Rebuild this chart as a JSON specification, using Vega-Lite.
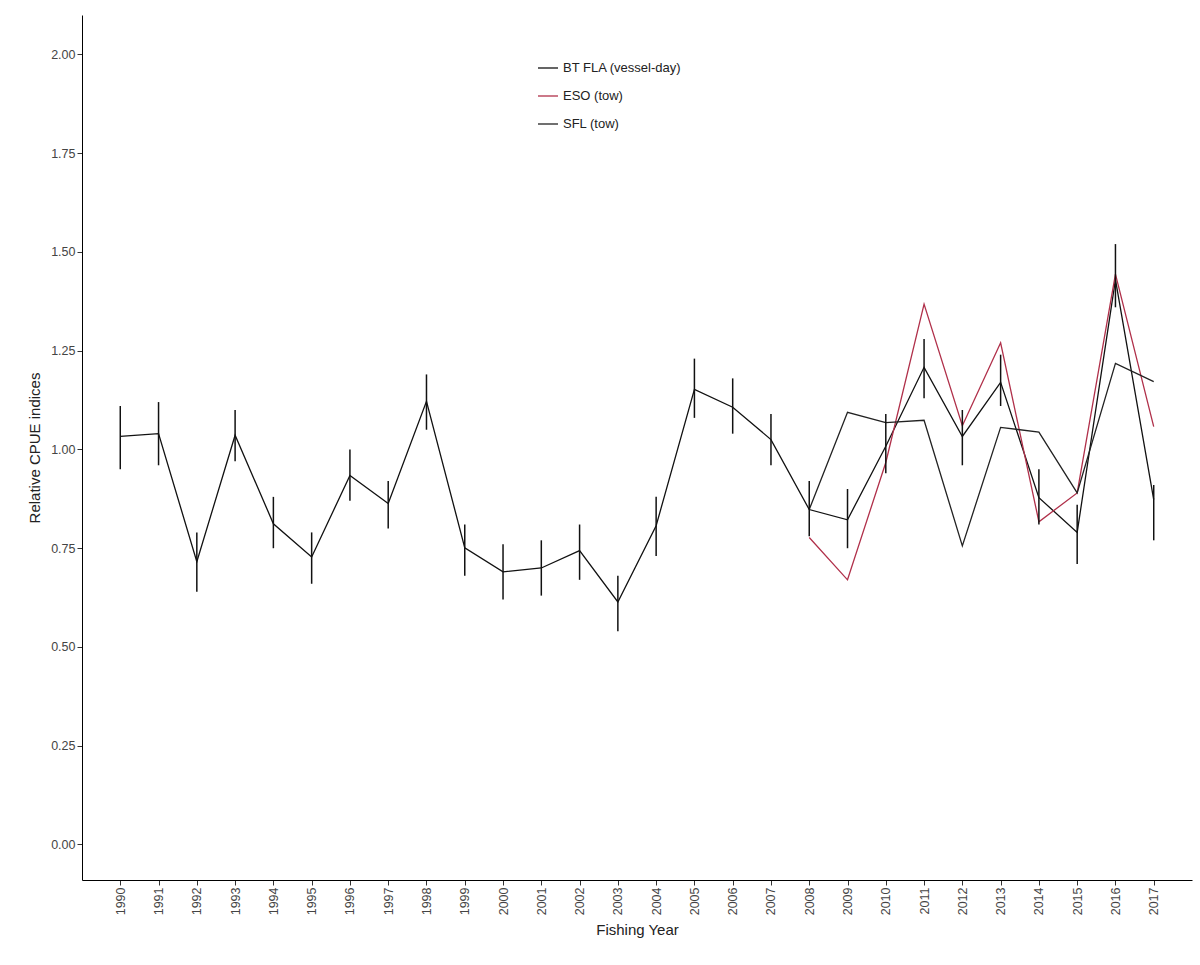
{
"$schema":"https://vega.github.io/schema/vega-lite/v6.json",
"width":1110,"height":865,
"padding":{"left":27,"top":15,"right":5,"bottom":5},
"background":"white",
"config":{"view":{"stroke":null},"font":"Liberation Sans","axis":{"grid":false,"domainColor":"black","tickColor":"#333","labelColor":"#444","labelFontSize":12.5,"titleFontSize":15,"titleFontWeight":"normal","titleColor":"#222"}},
"datasets":{"d":[
{"year":"1990","series":"BT FLA (vessel-day)","v":1.033,"lo":0.95,"hi":1.11},
{"year":"1991","series":"BT FLA (vessel-day)","v":1.04,"lo":0.96,"hi":1.12},
{"year":"1992","series":"BT FLA (vessel-day)","v":0.716,"lo":0.64,"hi":0.79},
{"year":"1993","series":"BT FLA (vessel-day)","v":1.036,"lo":0.97,"hi":1.10},
{"year":"1994","series":"BT FLA (vessel-day)","v":0.812,"lo":0.75,"hi":0.88},
{"year":"1995","series":"BT FLA (vessel-day)","v":0.728,"lo":0.66,"hi":0.79},
{"year":"1996","series":"BT FLA (vessel-day)","v":0.934,"lo":0.87,"hi":1.00},
{"year":"1997","series":"BT FLA (vessel-day)","v":0.863,"lo":0.80,"hi":0.92},
{"year":"1998","series":"BT FLA (vessel-day)","v":1.122,"lo":1.05,"hi":1.19},
{"year":"1999","series":"BT FLA (vessel-day)","v":0.751,"lo":0.68,"hi":0.81},
{"year":"2000","series":"BT FLA (vessel-day)","v":0.69,"lo":0.62,"hi":0.76},
{"year":"2001","series":"BT FLA (vessel-day)","v":0.70,"lo":0.63,"hi":0.77},
{"year":"2002","series":"BT FLA (vessel-day)","v":0.744,"lo":0.67,"hi":0.81},
{"year":"2003","series":"BT FLA (vessel-day)","v":0.614,"lo":0.54,"hi":0.68},
{"year":"2004","series":"BT FLA (vessel-day)","v":0.807,"lo":0.73,"hi":0.88},
{"year":"2005","series":"BT FLA (vessel-day)","v":1.152,"lo":1.08,"hi":1.23},
{"year":"2006","series":"BT FLA (vessel-day)","v":1.107,"lo":1.04,"hi":1.18},
{"year":"2007","series":"BT FLA (vessel-day)","v":1.025,"lo":0.96,"hi":1.09},
{"year":"2008","series":"BT FLA (vessel-day)","v":0.848,"lo":0.78,"hi":0.92},
{"year":"2009","series":"BT FLA (vessel-day)","v":0.822,"lo":0.75,"hi":0.90},
{"year":"2010","series":"BT FLA (vessel-day)","v":1.008,"lo":0.94,"hi":1.09},
{"year":"2011","series":"BT FLA (vessel-day)","v":1.208,"lo":1.13,"hi":1.28},
{"year":"2012","series":"BT FLA (vessel-day)","v":1.033,"lo":0.96,"hi":1.10},
{"year":"2013","series":"BT FLA (vessel-day)","v":1.17,"lo":1.11,"hi":1.24},
{"year":"2014","series":"BT FLA (vessel-day)","v":0.878,"lo":0.81,"hi":0.95},
{"year":"2015","series":"BT FLA (vessel-day)","v":0.79,"lo":0.71,"hi":0.86},
{"year":"2016","series":"BT FLA (vessel-day)","v":1.43,"lo":1.36,"hi":1.52},
{"year":"2017","series":"BT FLA (vessel-day)","v":0.873,"lo":0.77,"hi":0.91},
{"year":"2008","series":"ESO (tow)","v":0.777},
{"year":"2009","series":"ESO (tow)","v":0.67},
{"year":"2010","series":"ESO (tow)","v":0.967},
{"year":"2011","series":"ESO (tow)","v":1.368},
{"year":"2012","series":"ESO (tow)","v":1.06},
{"year":"2013","series":"ESO (tow)","v":1.27},
{"year":"2014","series":"ESO (tow)","v":0.817},
{"year":"2015","series":"ESO (tow)","v":0.89},
{"year":"2016","series":"ESO (tow)","v":1.444},
{"year":"2017","series":"ESO (tow)","v":1.058},
{"year":"2008","series":"SFL (tow)","v":0.848},
{"year":"2009","series":"SFL (tow)","v":1.094},
{"year":"2010","series":"SFL (tow)","v":1.068},
{"year":"2011","series":"SFL (tow)","v":1.074},
{"year":"2012","series":"SFL (tow)","v":0.756},
{"year":"2013","series":"SFL (tow)","v":1.056},
{"year":"2014","series":"SFL (tow)","v":1.044},
{"year":"2015","series":"SFL (tow)","v":0.89},
{"year":"2016","series":"SFL (tow)","v":1.218},
{"year":"2017","series":"SFL (tow)","v":1.172}
]},
"data":{"name":"d"},
"encoding":{
"x":{"field":"year","type":"ordinal","scale":{"type":"point","padding":1.3},"title":"Fishing Year","axis":{"labelAngle":-90,"labelAlign":"right","labelBaseline":"middle","titlePadding":8}},
"y":{"field":"v","type":"quantitative","scale":{"domain":[-0.09,2.1],"nice":false,"zero":false},"title":"Relative CPUE indices","axis":{"values":[0,0.25,0.5,0.75,1,1.25,1.5,1.75,2],"format":".2f","titlePadding":8}}
},
"layer":[
{"mark":{"type":"line","strokeWidth":1.3},
 "encoding":{"color":{"field":"series","type":"nominal","scale":{"domain":["BT FLA (vessel-day)","ESO (tow)","SFL (tow)"],"range":["#111111","#b0304a","#222222"]},
 "legend":{"title":null,"orient":"none","legendX":455,"legendY":42,"labelFontSize":13,"labelColor":"#222","symbolType":"stroke","symbolStrokeWidth":1.3,"symbolSize":400,"rowPadding":10}}}},
{"transform":[{"filter":"datum.series == 'BT FLA (vessel-day)'"}],
 "mark":{"type":"rule","color":"#111","strokeWidth":1.5},
 "encoding":{"y":{"field":"lo","type":"quantitative"},"y2":{"field":"hi"}}}
]
}
